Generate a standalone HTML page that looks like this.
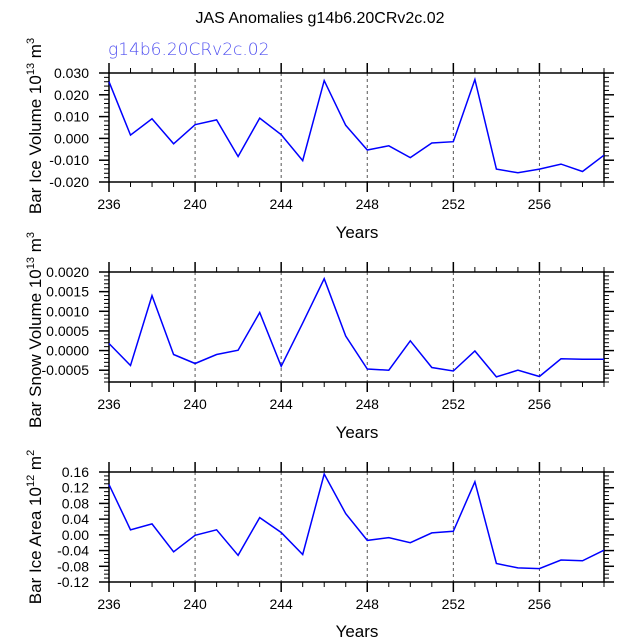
<!DOCTYPE html>
<html><head><meta charset="utf-8"><style>
html,body{margin:0;padding:0;background:#fff;}
svg{display:block;font-family:"Liberation Sans",Helvetica,sans-serif;}
</style></head><body>
<svg id="chart" width="638" height="638" viewBox="0 0 638 638" xmlns="http://www.w3.org/2000/svg">
<text x="320" y="23" text-anchor="middle" font-size="16" fill="#000">JAS Anomalies g14b6.20CRv2c.02</text>
<text x="108" y="55" font-size="17" fill="#5050f0" font-family="'DejaVu Sans',sans-serif" font-weight="300">g14b6.20CRv2c.02</text>
</svg>
<script>
const years = [236,237,238,239,240,241,242,243,244,245,246,247,248,249,250,251,252,253,254,255,256,257,258,259];
const iceVolume = [0.026,0.0015,0.009,-0.0025,0.0063,0.0085,-0.0083,0.0093,0.0017,-0.0102,0.0265,0.006,-0.0053,-0.0034,-0.0088,-0.0021,-0.0015,0.027,-0.0141,-0.0158,-0.0141,-0.0118,-0.0152,-0.0077];
const snowVolume = [0.00018,-0.00038,0.0014,-0.0001,-0.00033,-0.0001,0.00001,0.00097,-0.0004,0.0007,0.00183,0.00037,-0.00047,-0.0005,0.00025,-0.00043,-0.00052,-0.00001,-0.00067,-0.0005,-0.00066,-0.00021,-0.00022,-0.00022];
const iceArea = [0.128,0.013,0.028,-0.043,-0.001,0.013,-0.052,0.044,0.006,-0.05,0.155,0.054,-0.014,-0.007,-0.02,0.005,0.009,0.135,-0.073,-0.084,-0.086,-0.064,-0.066,-0.039];
const xTickLabels = ["236","240","244","248","252","256"];
const iceVolTicks = ["0.030","0.020","0.010","0.000","-0.010","-0.020"];
const snowTicks = ["0.0020","0.0015","0.0010","0.0005","0.0000","-0.0005"];
const areaTicks = ["0.16","0.12","0.08","0.04","0.00","-0.04","-0.08","-0.12"];

const svg = document.getElementById('chart');
const NS = 'http://www.w3.org/2000/svg';
function mk(tag, attrs, parent){
  const e = document.createElementNS(NS, tag);
  for (const k in attrs) e.setAttribute(k, attrs[k]);
  (parent||svg).appendChild(e);
  return e;
}
const X0=109, X1=604, XMIN=236, XMAX=259;
function xs(v){return X0+(v-XMIN)/(XMAX-XMIN)*(X1-X0);}

function panel(name, top, bottom, ymin, ymax, major, minor, ticks, values, titleMain, sup, unit, supUnit, titleY, yearsY){
  const g = mk('g', {});
  
  
  const ys = v => bottom - (v-ymin)/(ymax-ymin)*(bottom-top);
  for (let yv=240; yv<=256; yv+=4){
    const l = mk('line',{x1:xs(yv),x2:xs(yv),y1:top,y2:bottom,stroke:'#555','stroke-width':1,'stroke-dasharray':'3,3'},g);
    
    
  }
  for (let yv=XMIN; yv<=XMAX; yv++){
    const isMaj = (yv-236)%4===0;
    const len = isMaj?10:5;
    mk('line',{x1:xs(yv),x2:xs(yv),y1:bottom,y2:bottom+len,stroke:'#000','stroke-width':isMaj?1.5:1},g);
    mk('line',{x1:xs(yv),x2:xs(yv),y1:top,y2:top-len,stroke:'#000','stroke-width':isMaj?1.5:1},g);
  }
  xTickLabels.forEach(t=>{
    const tx = mk('text',{x:xs(+t),y:bottom+27,'text-anchor':'middle','font-size':14},g);
    tx.textContent=t;
    
    
  });
  const nMin = Math.round((ymax-ymin)/minor);
  for (let i=0;i<=nMin;i++){
    const v = ymin + i*minor;
    const isMaj = Math.abs(v/major - Math.round(v/major))<1e-6;
    const len = isMaj?10:5;
    mk('line',{x1:X0-len,x2:X0,y1:ys(v),y2:ys(v),stroke:'#000','stroke-width':isMaj?1.5:1},g);
    mk('line',{x1:X1,x2:X1+len,y1:ys(v),y2:ys(v),stroke:'#000','stroke-width':isMaj?1.5:1},g);
  }
  ticks.forEach(t=>{
    const tx = mk('text',{x:X0-20,y:ys(+t)+5,'text-anchor':'end','font-size':14},g);
    tx.textContent=t;
    
    
  });
  const fr = mk('rect',{x:X0,y:top,width:X1-X0,height:bottom-top,fill:'none',stroke:'#000','stroke-width':1.5},g);
  
  
  const d = values.map((v,i)=>(i?'L':'M')+xs(years[i]).toFixed(1)+','+ys(v).toFixed(1)).join(' ');
  const p = mk('path',{d:d,fill:'none',stroke:'#0000ff','stroke-width':1.5},g);
  
  
  const yt = mk('text',{transform:'translate(41,'+titleY+') rotate(-90)','text-anchor':'middle','font-size':17},g);
  
  
  yt.innerHTML = titleMain+'<tspan font-size="11" dy="-7">'+sup+'</tspan><tspan dy="7"> '+unit+'</tspan><tspan font-size="11" dy="-7">'+supUnit+'</tspan>';
  const xt = mk('text',{x:357,y:yearsY,'text-anchor':'middle','font-size':17},g);
  xt.textContent='Years';
  
  
}
panel('ice-volume-panel',73,182,-0.020,0.030,0.010,0.002,iceVolTicks,iceVolume,'Bar Ice Volume 10','13','m','3',126,238);
panel('snow-volume-panel',272,382,-0.0008,0.0020,0.0005,0.0001,snowTicks,snowVolume,'Bar Snow Volume 10','13','m','3',330,438);
panel('ice-area-panel',472,582,-0.12,0.16,0.04,0.01,areaTicks,iceArea,'Bar Ice Area 10','12','m','2',527,637);
</script>
</body></html>
